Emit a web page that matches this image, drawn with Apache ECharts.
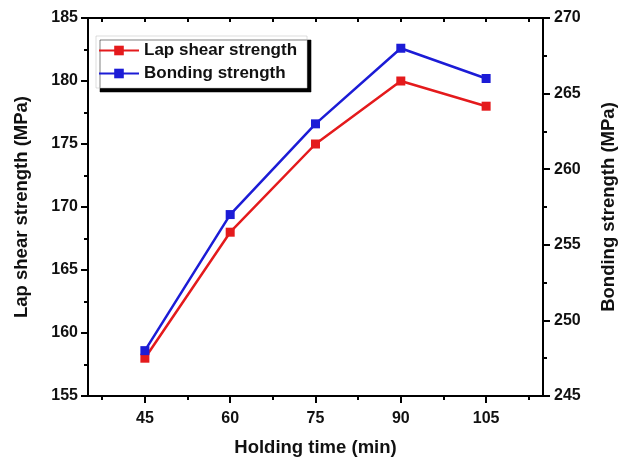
<!DOCTYPE html>
<html>
<head>
<meta charset="utf-8">
<script src="https://cdn.jsdelivr.net/npm/echarts@6/dist/echarts.min.js"></script>
<style>
  html, body { margin: 0; padding: 0; background: #fff; }
  #chart { width: 622px; height: 462px; }
</style>
</head>
<body>
<div id="chart"></div>
<script>
// values
var holdingTime = [45, 60, 75, 90, 105];
var lapShear = [158, 168, 175, 180, 178];
var bonding = [248, 257, 263, 268, 266];
var xLabelValues = [45, 60, 75, 90, 105];
var xMinorValues = [37.5, 52.5, 67.5, 82.5, 97.5, 112.5];
var xTopValues = [37.5, 45, 52.5, 60, 67.5, 75, 82.5, 90, 97.5, 105, 112.5];

var font = '"Liberation Sans", Arial, sans-serif';
var red = '#e41a1c';
var blue = '#1c1cd6';

function pairs(xs, ys) {
  return xs.map(function (x, i) { return [x, ys[i]]; });
}

var chart = echarts.init(document.getElementById('chart'));

var blackLine = { color: '#000', width: 2 };
var tickText = { fontFamily: font, fontWeight: 'bold', fontSize: 16, color: '#111' };
var titleText = { fontFamily: font, fontWeight: 'bold', fontSize: 18.5, color: '#111' };

chart.setOption({
  animation: false,
  backgroundColor: '#fff',
  grid: { left: 88, right: 79, top: 18, bottom: 66, outerBoundsMode: 'none', containLabel: false },
  legend: {
    left: 96,
    top: 36,
    orient: 'vertical',
    itemWidth: 40,
    itemHeight: 12,
    itemGap: 6,
    padding: [6, 10, 6, 2],
    backgroundColor: '#fff',
    borderColor: '#bbb',
    borderWidth: 0.5,
    shadowColor: '#000',
    shadowBlur: 0,
    shadowOffsetX: 4,
    shadowOffsetY: 4,
    textStyle: { fontFamily: font, fontWeight: 'bold', fontSize: 17, color: '#111' },
    data: ['Lap shear strength', 'Bonding strength']
  },
  xAxis: [
    {
      type: 'value', min: 35, max: 115, position: 'bottom',
      name: 'Holding time (min)', nameLocation: 'middle', nameGap: 42,
      nameTextStyle: titleText,
      axisLine: { show: true, lineStyle: blackLine },
      axisTick: { show: true, length: 7, lineStyle: blackLine, customValues: xLabelValues },
      axisLabel: Object.assign({ customValues: xLabelValues, margin: 15 }, tickText),
      splitLine: { show: false }
    },
    {
      type: 'value', min: 35, max: 115, position: 'bottom',
      axisLine: { show: false },
      axisTick: { show: true, length: 4, lineStyle: blackLine, customValues: xMinorValues },
      axisLabel: { show: false },
      splitLine: { show: false }
    },
    {
      type: 'value', min: 35, max: 115, position: 'top',
      axisLine: { show: true, lineStyle: blackLine },
      axisTick: { show: true, inside: true, length: 4, lineStyle: blackLine, customValues: xTopValues },
      axisLabel: { show: false },
      splitLine: { show: false }
    }
  ],
  yAxis: [
    {
      type: 'value', min: 155, max: 185, interval: 5, position: 'left',
      name: 'Lap shear strength (MPa)', nameLocation: 'middle', nameGap: 57,
      nameTextStyle: titleText,
      axisLine: { show: true, lineStyle: blackLine },
      axisTick: { show: true, length: 7, lineStyle: blackLine },
      minorTick: { show: true, splitNumber: 2, length: 4, lineStyle: blackLine },
      axisLabel: Object.assign({ margin: 10 }, tickText),
      splitLine: { show: false }
    },
    {
      type: 'value', min: 245, max: 270, interval: 5, position: 'right',
      name: 'Bonding strength (MPa)', nameLocation: 'middle', nameGap: 56,
      nameRotate: 90,
      nameTextStyle: titleText,
      axisLine: { show: true, lineStyle: blackLine },
      axisTick: { show: true, length: 7, lineStyle: blackLine },
      minorTick: { show: true, splitNumber: 2, length: 4, lineStyle: blackLine },
      axisLabel: Object.assign({ margin: 11 }, tickText),
      splitLine: { show: false }
    }
  ],
  series: [
    {
      name: 'Lap shear strength',
      type: 'line',
      xAxisIndex: 0,
      yAxisIndex: 0,
      data: pairs(holdingTime, lapShear),
      symbol: 'rect',
      symbolSize: 9,
      itemStyle: { color: red },
      lineStyle: { color: red, width: 2.5 }
    },
    {
      name: 'Bonding strength',
      type: 'line',
      xAxisIndex: 0,
      yAxisIndex: 1,
      data: pairs(holdingTime, bonding),
      symbol: 'rect',
      symbolSize: 9,
      itemStyle: { color: blue },
      lineStyle: { color: blue, width: 2.5 }
    }
  ]
});

window.addEventListener('resize', function () {
  chart.resize();
});
</script>
</body>
</html>
